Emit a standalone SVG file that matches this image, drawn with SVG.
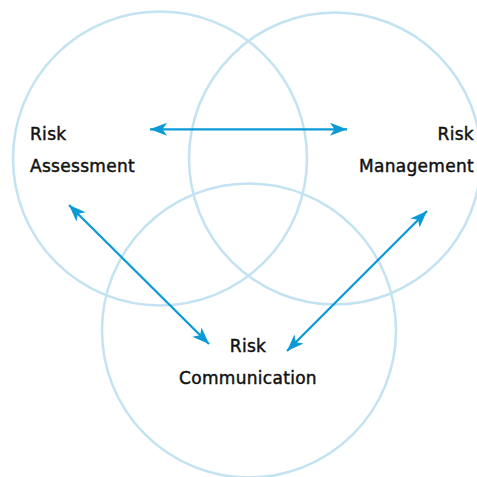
<svg xmlns="http://www.w3.org/2000/svg" width="477" height="477" viewBox="0 0 477 477">
  <style>
    .ring { fill: none; stroke: #c3e2f2; stroke-width: 2.5; }
    .link { fill: none; stroke: #0a9ad6; stroke-width: 2.3; marker-start: url(#head); marker-end: url(#head); }
    .label { font-family: "DejaVu Sans", "Liberation Sans", sans-serif; font-size: 17px; letter-spacing: 0.3px; fill: #111; stroke: #111; stroke-width: 0.45; }
  </style>
  <defs>
    <marker id="head" markerUnits="userSpaceOnUse" viewBox="-18 -8 20 16" refX="0" refY="0" markerWidth="20" markerHeight="16" orient="auto-start-reverse">
      <path d="M0,0 L-17,-6.5 L-12.5,0 L-17,6.5 Z" fill="#0a9ad6"/>
    </marker>
  </defs>
  <rect width="477" height="477" fill="#ffffff"/>

  <g id="assessment">
    <circle class="ring" cx="160" cy="158.5" r="147"/>
    <text class="label" x="30" y="140">Risk</text>
    <text class="label" x="30" y="172">Assessment</text>
  </g>

  <g id="management">
    <circle class="ring" cx="335" cy="158.5" r="146"/>
    <text class="label" x="474" y="140" text-anchor="end">Risk</text>
    <text class="label" x="474" y="172" text-anchor="end">Management</text>
  </g>

  <g id="communication">
    <circle class="ring" cx="249" cy="330.5" r="147"/>
    <text class="label" x="248" y="352" text-anchor="middle">Risk</text>
    <text class="label" x="248" y="384" text-anchor="middle">Communication</text>
  </g>

  <g id="connectors">
    <line class="link" x1="150" y1="129.3" x2="347" y2="129.3"/>
    <line class="link" x1="69" y1="205" x2="209" y2="344"/>
    <line class="link" x1="427" y1="211" x2="287" y2="351"/>
  </g>
</svg>
